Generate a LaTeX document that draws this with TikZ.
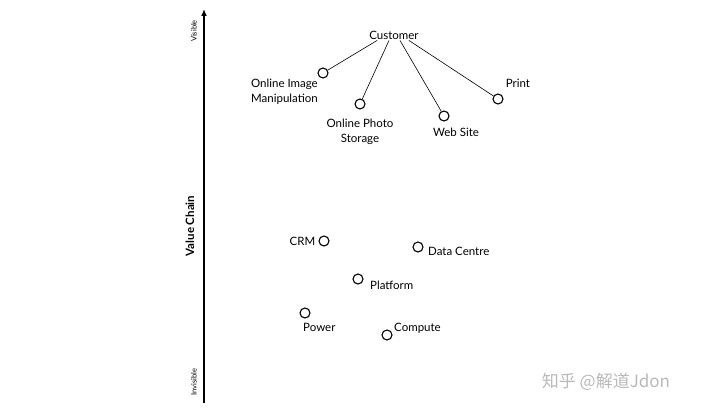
\documentclass[tikz,border=0pt]{standalone}
\usepackage{fontspec}
\setmainfont{Lato}
\newfontfamily\cjkfont{Noto Sans CJK SC}
\usetikzlibrary{arrows.meta,positioning}
\definecolor{wmgray}{RGB}{185,185,185}

\begin{document}
\begin{tikzpicture}[
      x=1pt, y=-1pt,
      node distance=2pt,
      comp/.style={circle, draw, line width=1.1pt, minimum size=10pt, inner sep=0pt},
      lbl/.style={font=\fontsize{11.5}{15}\selectfont, align=center, inner sep=1pt},
      link/.style={line width=0.6pt},
      axis/.style={-{Latex[length=2.4mm,width=2mm]}, line width=1.4pt}
    ]
      \useasboundingbox (0,0) rectangle (720,414);

      % value chain axis
      \coordinate (low) at (204,403);
      \coordinate (high) at (204,9);
      \draw[axis] (low) -- (high);
      \node[font=\fontsize{7.5}{9}\selectfont, rotate=90] (vis) at (194,31) {Visible};
      \node[font=\fontsize{7.5}{9}\selectfont, rotate=90] (invis) at (194,382) {Invisible};
      \node[font=\bfseries\fontsize{11.5}{13}\selectfont, rotate=90] (vchain) at (190,226) {Value Chain};

      % user needs
      \node[lbl] (cust) at (394,35) {Customer};

      \node[comp] (oim) at (323,73) {};
      \node[lbl, anchor=north east] (oimlbl) at (319,78) {Online Image\\Manipulation};

      \node[comp] (ops) at (360,104) {};
      \node[lbl, below=8pt of ops] (opslbl) {Online Photo\\Storage};

      \node[comp] (web) at (444,116) {};
      \node[lbl, anchor=north] (weblbl) at (456,127) {Web Site};

      \node[comp] (print) at (498,99) {};
      \node[lbl] (printlbl) at (518,83) {Print};

      \path (cust.south west) ++(9,0) coordinate (c1);
      \path (cust.south) ++(-5,0) coordinate (c2);
      \path (cust.south) ++(6,0) coordinate (c3);
      \path (cust.south east) ++(-11,0) coordinate (c4);
      \draw[link] (c1) -- (oim);
      \draw[link] (c2) -- (ops);
      \draw[link] (c3) -- (web);
      \draw[link] (c4) -- (print);

      % infrastructure
      \node[comp] (crm) at (324,241) {};
      \node[lbl, left=of crm] (crmlbl) {CRM};

      \node[comp] (dc) at (418,247) {};
      \node[lbl, anchor=west] (dclbl) at (427,251) {Data Centre};

      \node[comp] (plat) at (358,279) {};
      \node[lbl, anchor=west] (platlbl) at (369,285) {Platform};

      \node[comp] (pow) at (305,313) {};
      \node[lbl, anchor=north west] (powlbl) at (302,322) {Power};

      \node[comp] (comp) at (387,335) {};
      \node[lbl, anchor=west] (complbl) at (393,328) {Compute};

      % watermark
      \node[font=\cjkfont\fontsize{17}{20}\selectfont, text=wmgray] (wm) at (606,382) {知乎 @解道Jdon};
    \end{tikzpicture}
\end{document}
